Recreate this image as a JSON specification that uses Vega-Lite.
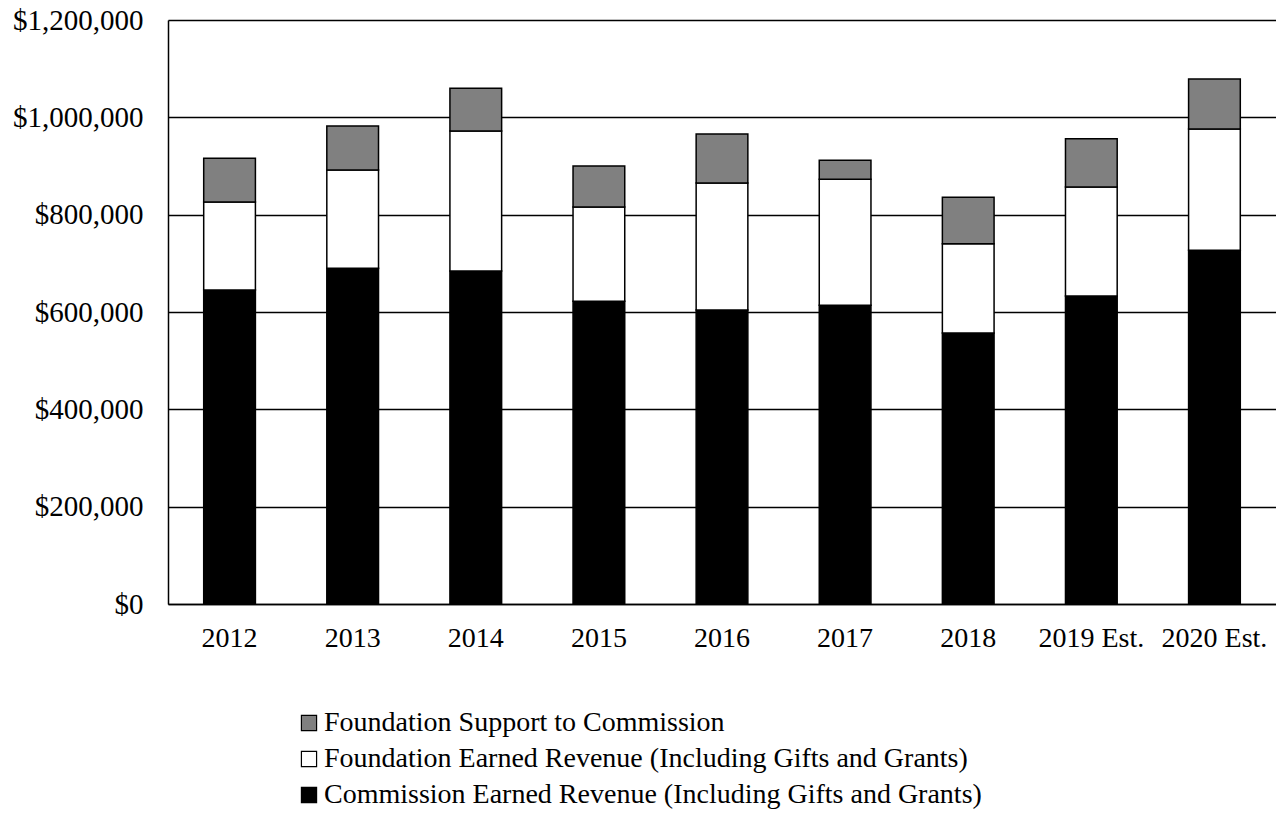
{
  "$schema": "https://vega.github.io/schema/vega-lite/v6.json",
  "autosize": "none",
  "width": 1108,
  "height": 584,
  "padding": {"left": 168, "top": 20, "right": 0, "bottom": 229},
  "background": "white",
  "config": {
    "font": "Liberation Serif",
    "view": {"stroke": null}
  },
  "data": {
    "values": [
      {"year": "2012", "series": "Commission Earned Revenue (Including Gifts and Grants)", "value": 645000, "ord": 1},
      {"year": "2012", "series": "Foundation Earned Revenue (Including Gifts and Grants)", "value": 181000, "ord": 2},
      {"year": "2012", "series": "Foundation Support to Commission", "value": 90000, "ord": 3},
      {"year": "2013", "series": "Commission Earned Revenue (Including Gifts and Grants)", "value": 690000, "ord": 1},
      {"year": "2013", "series": "Foundation Earned Revenue (Including Gifts and Grants)", "value": 202000, "ord": 2},
      {"year": "2013", "series": "Foundation Support to Commission", "value": 90000, "ord": 3},
      {"year": "2014", "series": "Commission Earned Revenue (Including Gifts and Grants)", "value": 684000, "ord": 1},
      {"year": "2014", "series": "Foundation Earned Revenue (Including Gifts and Grants)", "value": 288000, "ord": 2},
      {"year": "2014", "series": "Foundation Support to Commission", "value": 88000, "ord": 3},
      {"year": "2015", "series": "Commission Earned Revenue (Including Gifts and Grants)", "value": 622000, "ord": 1},
      {"year": "2015", "series": "Foundation Earned Revenue (Including Gifts and Grants)", "value": 194000, "ord": 2},
      {"year": "2015", "series": "Foundation Support to Commission", "value": 84000, "ord": 3},
      {"year": "2016", "series": "Commission Earned Revenue (Including Gifts and Grants)", "value": 604000, "ord": 1},
      {"year": "2016", "series": "Foundation Earned Revenue (Including Gifts and Grants)", "value": 261000, "ord": 2},
      {"year": "2016", "series": "Foundation Support to Commission", "value": 101000, "ord": 3},
      {"year": "2017", "series": "Commission Earned Revenue (Including Gifts and Grants)", "value": 614000, "ord": 1},
      {"year": "2017", "series": "Foundation Earned Revenue (Including Gifts and Grants)", "value": 259000, "ord": 2},
      {"year": "2017", "series": "Foundation Support to Commission", "value": 39000, "ord": 3},
      {"year": "2018", "series": "Commission Earned Revenue (Including Gifts and Grants)", "value": 557000, "ord": 1},
      {"year": "2018", "series": "Foundation Earned Revenue (Including Gifts and Grants)", "value": 183000, "ord": 2},
      {"year": "2018", "series": "Foundation Support to Commission", "value": 96000, "ord": 3},
      {"year": "2019 Est.", "series": "Commission Earned Revenue (Including Gifts and Grants)", "value": 633000, "ord": 1},
      {"year": "2019 Est.", "series": "Foundation Earned Revenue (Including Gifts and Grants)", "value": 224000, "ord": 2},
      {"year": "2019 Est.", "series": "Foundation Support to Commission", "value": 99000, "ord": 3},
      {"year": "2020 Est.", "series": "Commission Earned Revenue (Including Gifts and Grants)", "value": 727000, "ord": 1},
      {"year": "2020 Est.", "series": "Foundation Earned Revenue (Including Gifts and Grants)", "value": 249000, "ord": 2},
      {"year": "2020 Est.", "series": "Foundation Support to Commission", "value": 103000, "ord": 3}
    ]
  },
  "mark": {"type": "bar", "stroke": "black", "strokeWidth": 1.5},
  "encoding": {
    "x": {
      "field": "year", "type": "nominal", "sort": null,
      "scale": {"paddingInner": 0.58, "paddingOuter": 0.29},
      "axis": {
        "title": null, "labelAngle": 0, "labelFontSize": 28, "labelColor": "black",
        "labelFont": "Liberation Serif", "labelPadding": 20, "ticks": false,
        "domainColor": "black", "domainWidth": 1.5
      }
    },
    "y": {
      "field": "value", "type": "quantitative", "stack": "zero",
      "scale": {"domain": [0, 1200000]},
      "axis": {
        "title": null, "values": [0, 200000, 400000, 600000, 800000, 1000000, 1200000],
        "format": "$,.0f", "labelFontSize": 29, "labelColor": "black",
        "labelFont": "Liberation Serif", "labelPadding": 25, "ticks": false,
        "grid": true, "gridColor": "black", "gridWidth": 1.5, "gridOpacity": 1,
        "domainColor": "black", "domainWidth": 1.5
      }
    },
    "color": {
      "field": "series", "type": "nominal",
      "scale": {
        "domain": ["Foundation Support to Commission", "Foundation Earned Revenue (Including Gifts and Grants)", "Commission Earned Revenue (Including Gifts and Grants)"],
        "range": ["#808080", "#ffffff", "#000000"]
      },
      "legend": {
        "title": null, "orient": "none", "legendX": 127, "legendY": 689,
        "direction": "vertical",
        "symbolType": "square", "symbolSize": 230, "symbolStrokeColor": "black", "symbolStrokeWidth": 1.2,
        "labelFontSize": 28, "labelFont": "Liberation Serif", "labelColor": "black",
        "labelLimit": 900, "labelOffset": 1, "rowPadding": 8
      }
    },
    "order": {"field": "ord", "type": "quantitative"}
  }
}
